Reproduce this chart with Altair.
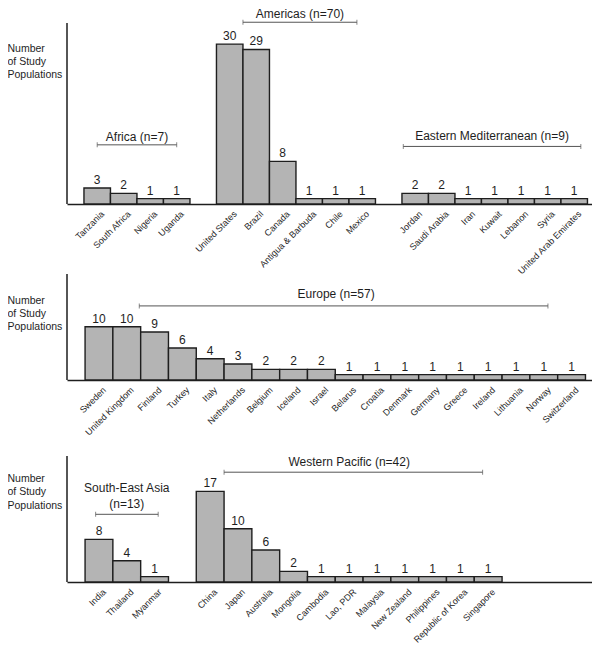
import altair as alt
import pandas as pd

# ---------------- data ----------------
africa_names = ["Tanzania", "South Africa", "Nigeria", "Uganda"]
africa_vals = [3, 2, 1, 1]
americas_names = ["United States", "Brazil", "Canada", "Antigua & Barbuda", "Chile", "Mexico"]
americas_vals = [30, 29, 8, 1, 1, 1]
emr_names = ["Jordan", "Saudi Arabia", "Iran", "Kuwait", "Lebanon", "Syria", "United Arab Emirates"]
emr_vals = [2, 2, 1, 1, 1, 1, 1]

europe_names = ["Sweden", "United Kingdom", "Finland", "Turkey", "Italy", "Netherlands",
                "Belgium", "Iceland", "Israel", "Belarus", "Croatia", "Denmark", "Germany",
                "Greece", "Ireland", "Lithuania", "Norway", "Switzerland"]
europe_vals = [10, 10, 9, 6, 4, 3, 2, 2, 2, 1, 1, 1, 1, 1, 1, 1, 1, 1]

sea_names = ["India", "Thailand", "Myanmar"]
sea_vals = [8, 4, 1]
wp_names = ["China", "Japan", "Australia", "Mongolia", "Cambodia", "Lao, PDR", "Malaysia",
            "New Zealand", "Philippines", "Republic of Korea", "Singapore"]
wp_vals = [17, 10, 6, 2, 1, 1, 1, 1, 1, 1, 1]

# region brackets: label, start slot, end slot, label slot, height (count units), label dy
row1_brackets = [
    ("Africa (n=7)", 0.5, 3.5, 2.0, 11.1, -4),
    ("Americas (n=70)", 6.0, 10.3, 8.15, 34.1, -4),
    ("Eastern Mediterranean (n=9)", 12.05, 18.75, 15.4, 10.8, -6),
]
row2_brackets = [
    ("Europe (n=57)", 1.95, 16.65, 9.03, 13.9, -8),
]
row3_brackets = [
    ("South-East Asia\n(n=13)", 0.38, 2.63, 1.5, 12.7, -22),
    ("Western Pacific (n=42)", 5.0, 14.3, 9.5, 20.6, -6),
]

Y_TITLE = ["Number", "of Study", "Populations"]

# ---------------- layout constants ----------------
PX = 5.33          # pixels per count unit
W = 525
FONT = "Liberation Sans"
BAR_FILL = "#b4b4b4"
DARK = "#1e1e1e"
BRACKET = "#555555"


def slot_table(groups):
    rows = []
    pos = 0
    for gi, (names, vals) in enumerate(groups):
        if gi > 0:
            pos += 1
        for n, v in zip(names, vals):
            rows.append({"name": n, "count": v, "x0": pos, "x1": pos + 1, "xm": pos + 0.5})
            pos += 1
    return pd.DataFrame(rows)


def make_row(groups, brackets, xmin, xmax, height, axis_top, title_y):
    df = slot_table(groups)
    n_slots = int(df["x1"].max())
    names_by_slot = [""] * n_slots
    for r in df.itertuples():
        names_by_slot[int(r.x0)] = r.name
    expr = "[" + ",".join("'" + s + "'" for s in names_by_slot) + "][floor(datum.value)]"

    xs = alt.Scale(domain=[xmin, xmax], nice=False, zero=False)
    ys = alt.Scale(domain=[0, height / PX], nice=False, zero=True)
    xaxis = alt.Axis(
        values=list(df["xm"]), labelExpr=expr, title=None,
        labelAngle=-45, labelAlign="right", labelBaseline="middle",
        labelOffset=5, labelPadding=8, labelFontSize=9, labelColor=DARK, labelFont=FONT,
        labelOverlap=False, labelFlush=False, labelBound=False,
        ticks=False, grid=False, domain=True, domainColor=DARK, domainWidth=1.5)
    yaxis = alt.Axis(
        title=Y_TITLE, titleAngle=0, titleAlign="left", titleBaseline="alphabetic",
        titleX=-60, titleY=title_y, titleFontSize=10.5, titleFontWeight="normal",
        titleLineHeight=13.3, titleColor=DARK, titleFont=FONT,
        domain=False, ticks=False, labels=False, grid=False)

    def X(f):
        return alt.X(f, scale=xs, axis=xaxis)

    def Y(f):
        return alt.Y(f, scale=ys, axis=yaxis)

    bars = alt.Chart(df).mark_rect(fill=BAR_FILL, stroke=DARK, strokeWidth=1.4).encode(
        x=X("x0:Q"), x2="x1:Q", y=Y("count:Q"), y2=alt.datum(0),
    )

    values = alt.Chart(df).mark_text(baseline="alphabetic", dy=-4, fontSize=12, color=DARK).encode(
        x=X("xm:Q"), y=Y("count:Q"), text="count:Q",
    )

    yaxis_line = alt.Chart(pd.DataFrame({"a": [0]})).mark_rule(color=DARK, strokeWidth=1.5).encode(
        x=alt.value(0), y=alt.value(axis_top), y2=alt.value(height)
    )

    layers = [bars, values, yaxis_line]
    for label, x_s, x_e, x_l, yv, dy in brackets:
        bdf = pd.DataFrame([{"xs": x_s, "xe": x_e, "y": yv}])
        cdf = pd.DataFrame([{"x": x_s, "y": yv}, {"x": x_e, "y": yv}])
        ldf = pd.DataFrame([{"x": x_l, "y": yv, "label": label}])
        layers.append(alt.Chart(bdf).mark_rule(color=BRACKET, strokeWidth=1).encode(
            x=X("xs:Q"), x2="xe:Q", y=Y("y:Q")))
        layers.append(alt.Chart(cdf).mark_tick(orient="vertical", size=5, thickness=1, color=BRACKET).encode(
            x=X("x:Q"), y=Y("y:Q")))
        layers.append(alt.Chart(ldf).mark_text(baseline="alphabetic", align="center", dy=dy,
                                               fontSize=12, color=DARK, lineBreak="\n",
                                               lineHeight=16).encode(
            x=X("x:Q"), y=Y("y:Q"), text="label:N"))
    return alt.layer(*layers).properties(width=W, height=height)


row1 = make_row([(africa_names, africa_vals), (americas_names, americas_vals), (emr_names, emr_vals)],
                row1_brackets, -0.64, -0.64 + W / 26.5, 181, 0, 28)
row2 = make_row([(europe_names, europe_vals)],
                row2_brackets, -0.65, -0.65 + W / 27.8, 106, 0, 29)
row3 = make_row([(sea_names, sea_vals), (wp_names, wp_vals)],
                row3_brackets, -0.65, -0.65 + W / 27.8, 132, 6, 31.5)

chart = alt.vconcat(row1, row2, row3, spacing=70, bounds="flush").properties(
    padding={"left": -1, "top": 0, "right": 0, "bottom": 0}
).configure(font=FONT).configure_view(stroke=None)

chart.save("out.html", embed_options={"renderer": "svg", "actions": False})
